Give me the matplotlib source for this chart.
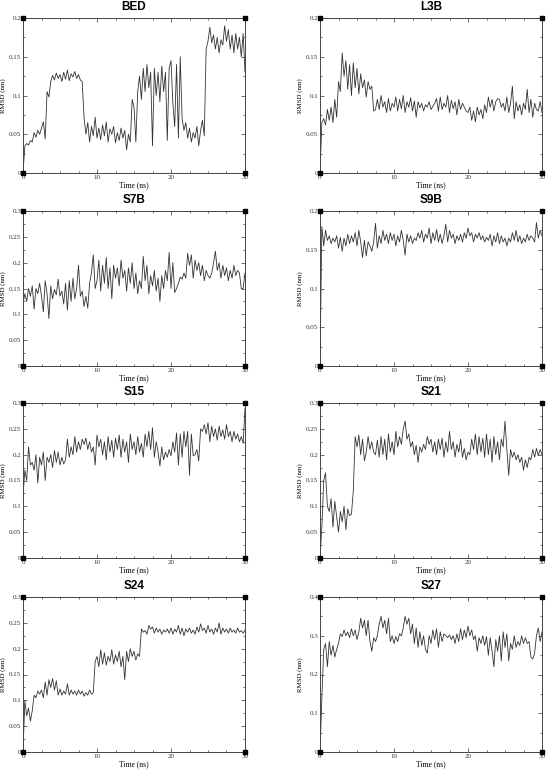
import numpy as np
import matplotlib
matplotlib.use("Agg")
import matplotlib.pyplot as plt
from matplotlib.ticker import MultipleLocator, FormatStrFormatter

bed = [0.000, 0.035, 0.038, 0.036, 0.042, 0.040, 0.052, 0.046, 0.055, 0.050,
       0.058, 0.066, 0.044, 0.105, 0.098, 0.118, 0.126, 0.120, 0.129, 0.122,
       0.127, 0.118, 0.130, 0.121, 0.133, 0.119, 0.128, 0.124, 0.131, 0.122,
       0.127, 0.120, 0.118, 0.072, 0.050, 0.065, 0.040, 0.060, 0.048, 0.072,
       0.045, 0.058, 0.043, 0.062, 0.048, 0.066, 0.040, 0.057, 0.050, 0.060,
       0.039, 0.052, 0.042, 0.058, 0.045, 0.055, 0.030, 0.050, 0.040, 0.095,
       0.085, 0.040, 0.105, 0.125, 0.095, 0.135, 0.105, 0.140, 0.110, 0.130,
       0.035, 0.135, 0.100, 0.130, 0.092, 0.138, 0.105, 0.130, 0.042, 0.135,
       0.145, 0.090, 0.060, 0.140, 0.045, 0.150, 0.070, 0.055, 0.065, 0.045,
       0.058, 0.040, 0.052, 0.045, 0.060, 0.035, 0.055, 0.068, 0.048, 0.160,
       0.170, 0.188, 0.168, 0.178, 0.160, 0.175, 0.155, 0.172, 0.165, 0.190,
       0.170, 0.185, 0.160, 0.178, 0.155, 0.180, 0.160, 0.175, 0.150, 0.180,
       0.130]

l3b = [0.000, 0.065, 0.070, 0.062, 0.082, 0.068, 0.085, 0.065, 0.095, 0.072,
       0.118, 0.105, 0.155, 0.125, 0.145, 0.108, 0.140, 0.100, 0.142, 0.110,
       0.135, 0.102, 0.128, 0.110, 0.120, 0.098, 0.118, 0.108, 0.112, 0.080,
       0.082, 0.095, 0.082, 0.100, 0.085, 0.092, 0.078, 0.096, 0.080, 0.090,
       0.085, 0.098, 0.080, 0.095, 0.083, 0.100, 0.078, 0.092, 0.085, 0.097,
       0.080, 0.093, 0.072, 0.092, 0.084, 0.090, 0.080, 0.088, 0.085, 0.092,
       0.082, 0.086, 0.090, 0.096, 0.080, 0.098, 0.082, 0.090, 0.085, 0.100,
       0.078, 0.094, 0.083, 0.092, 0.075, 0.095, 0.082, 0.090, 0.085, 0.080,
       0.078, 0.085, 0.068, 0.080, 0.066, 0.085, 0.075, 0.082, 0.070, 0.088,
       0.078, 0.098, 0.085, 0.095, 0.080, 0.092, 0.096, 0.095, 0.085, 0.090,
       0.080, 0.098, 0.078, 0.090, 0.112, 0.070, 0.092, 0.080, 0.088, 0.075,
       0.090, 0.082, 0.108, 0.078, 0.095, 0.072, 0.090, 0.082, 0.080, 0.092,
       0.078]

s7b = [0.120, 0.140, 0.125, 0.150, 0.135, 0.155, 0.110, 0.150, 0.140, 0.160,
       0.135, 0.105, 0.165, 0.140, 0.092, 0.155, 0.130, 0.148, 0.138, 0.168,
       0.135, 0.145, 0.120, 0.160, 0.108, 0.165, 0.125, 0.170, 0.130, 0.150,
       0.195, 0.135, 0.145, 0.115, 0.135, 0.112, 0.160, 0.180, 0.215, 0.150,
       0.165, 0.205, 0.145, 0.195, 0.160, 0.210, 0.150, 0.190, 0.130, 0.195,
       0.170, 0.190, 0.155, 0.205, 0.170, 0.185, 0.145, 0.190, 0.160, 0.200,
       0.150, 0.180, 0.140, 0.165, 0.150, 0.212, 0.165, 0.195, 0.140, 0.175,
       0.155, 0.185, 0.145, 0.170, 0.125, 0.175, 0.150, 0.185, 0.165, 0.220,
       0.150, 0.200, 0.142, 0.150, 0.160, 0.172, 0.168, 0.180, 0.170, 0.218,
       0.195, 0.215, 0.170, 0.205, 0.185, 0.200, 0.175, 0.195, 0.165, 0.185,
       0.175, 0.170, 0.180, 0.200, 0.222, 0.185, 0.200, 0.170, 0.195, 0.175,
       0.190, 0.165, 0.185, 0.170, 0.195, 0.175, 0.185, 0.180, 0.150, 0.150,
       0.180]

s9b = [0.000, 0.180, 0.155, 0.175, 0.162, 0.168, 0.158, 0.165, 0.160, 0.168,
       0.152, 0.166, 0.148, 0.165, 0.155, 0.170, 0.158, 0.168, 0.160, 0.172,
       0.155, 0.175, 0.160, 0.140, 0.162, 0.142, 0.160, 0.155, 0.148, 0.160,
       0.184, 0.152, 0.168, 0.158, 0.175, 0.162, 0.170, 0.158, 0.172, 0.162,
       0.170, 0.155, 0.168, 0.160, 0.175, 0.162, 0.143, 0.170, 0.160, 0.168,
       0.158, 0.165, 0.162, 0.172, 0.165, 0.175, 0.160, 0.170, 0.165, 0.178,
       0.158, 0.172, 0.162, 0.176, 0.160, 0.170, 0.158, 0.168, 0.183, 0.160,
       0.175, 0.165, 0.170, 0.158, 0.168, 0.162, 0.170, 0.160, 0.172, 0.165,
       0.178, 0.168, 0.172, 0.160, 0.170, 0.165, 0.172, 0.163, 0.168, 0.160,
       0.166, 0.162, 0.170, 0.155, 0.168, 0.160, 0.172, 0.158, 0.168, 0.160,
       0.165, 0.155, 0.165, 0.160, 0.172, 0.162, 0.175, 0.160, 0.168, 0.158,
       0.165, 0.160, 0.170, 0.162, 0.168, 0.165, 0.160, 0.185, 0.165, 0.175,
       0.168]

s15 = [0.120, 0.170, 0.150, 0.215, 0.180, 0.185, 0.170, 0.200, 0.145, 0.195,
       0.180, 0.205, 0.150, 0.195, 0.185, 0.200, 0.175, 0.208, 0.185, 0.205,
       0.180, 0.195, 0.182, 0.190, 0.230, 0.195, 0.215, 0.200, 0.235, 0.205,
       0.225, 0.210, 0.230, 0.220, 0.232, 0.210, 0.225, 0.205, 0.215, 0.180,
       0.238, 0.215, 0.230, 0.200, 0.225, 0.190, 0.235, 0.205, 0.228, 0.195,
       0.232, 0.210, 0.238, 0.195, 0.230, 0.205, 0.225, 0.185, 0.240, 0.210,
       0.225, 0.200, 0.235, 0.205, 0.222, 0.195, 0.240, 0.215, 0.245, 0.210,
       0.252, 0.195, 0.225, 0.205, 0.178, 0.215, 0.190, 0.205, 0.195, 0.210,
       0.198, 0.225, 0.205, 0.242, 0.180, 0.240, 0.195, 0.245, 0.215, 0.245,
       0.160, 0.240, 0.198, 0.200, 0.210, 0.188, 0.250, 0.245, 0.258, 0.240,
       0.262, 0.225, 0.255, 0.235, 0.250, 0.228, 0.255, 0.235, 0.248, 0.230,
       0.258, 0.235, 0.245, 0.225, 0.245, 0.230, 0.240, 0.225, 0.235, 0.222,
       0.290]

s21 = [0.000, 0.060, 0.150, 0.165, 0.100, 0.090, 0.115, 0.060, 0.110, 0.080,
       0.050, 0.090, 0.070, 0.100, 0.055, 0.095, 0.082, 0.085, 0.130, 0.235,
       0.215, 0.238, 0.200, 0.230, 0.188, 0.205, 0.235, 0.210, 0.225, 0.205,
       0.200, 0.228, 0.195, 0.235, 0.200, 0.230, 0.190, 0.240, 0.205, 0.225,
       0.200, 0.245, 0.215, 0.235, 0.220, 0.250, 0.265, 0.230, 0.240, 0.215,
       0.225, 0.200, 0.218, 0.185, 0.215, 0.205, 0.220, 0.210, 0.235, 0.220,
       0.230, 0.205, 0.225, 0.200, 0.230, 0.210, 0.232, 0.195, 0.225, 0.205,
       0.245, 0.210, 0.225, 0.195, 0.220, 0.205, 0.230, 0.195, 0.212, 0.190,
       0.205, 0.200, 0.230, 0.210, 0.240, 0.200, 0.235, 0.205, 0.232, 0.195,
       0.240, 0.200, 0.230, 0.185, 0.235, 0.200, 0.225, 0.190, 0.230, 0.215,
       0.265, 0.210, 0.160, 0.210, 0.195, 0.205, 0.190, 0.200, 0.185, 0.195,
       0.170, 0.190, 0.175, 0.195, 0.190, 0.210, 0.195, 0.212, 0.198, 0.210,
       0.200]

s24 = [0.000, 0.100, 0.070, 0.085, 0.060, 0.080, 0.110, 0.105, 0.118, 0.112,
       0.120, 0.105, 0.135, 0.110, 0.140, 0.125, 0.142, 0.120, 0.138, 0.110,
       0.122, 0.110, 0.118, 0.112, 0.132, 0.110, 0.120, 0.112, 0.118, 0.110,
       0.120, 0.112, 0.118, 0.108, 0.115, 0.110, 0.120, 0.112, 0.115, 0.175,
       0.185, 0.165, 0.198, 0.170, 0.192, 0.168, 0.185, 0.175, 0.198, 0.170,
       0.188, 0.175, 0.195, 0.165, 0.185, 0.140, 0.195, 0.175, 0.200, 0.185,
       0.195, 0.178, 0.190, 0.185, 0.238, 0.232, 0.235, 0.228, 0.245, 0.238,
       0.242, 0.230, 0.240, 0.232, 0.238, 0.228, 0.236, 0.232, 0.238, 0.230,
       0.240, 0.228, 0.238, 0.232, 0.245, 0.228, 0.240, 0.225, 0.238, 0.232,
       0.240, 0.230, 0.236, 0.228, 0.242, 0.232, 0.248, 0.235, 0.240, 0.230,
       0.245, 0.232, 0.238, 0.228, 0.240, 0.232, 0.250, 0.228, 0.240, 0.232,
       0.238, 0.230, 0.240, 0.232, 0.236, 0.230, 0.240, 0.232, 0.235, 0.230,
       0.236]

s27 = [0.000, 0.140, 0.265, 0.280, 0.220, 0.285, 0.250, 0.275, 0.245, 0.265,
       0.280, 0.305, 0.298, 0.315, 0.300, 0.310, 0.295, 0.318, 0.300, 0.315,
       0.290, 0.310, 0.345, 0.320, 0.340, 0.300, 0.340, 0.285, 0.260, 0.295,
       0.285, 0.300, 0.330, 0.350, 0.320, 0.340, 0.305, 0.345, 0.285, 0.300,
       0.280, 0.298, 0.285, 0.305, 0.300, 0.320, 0.350, 0.330, 0.345, 0.305,
       0.330, 0.280, 0.320, 0.270, 0.310, 0.275, 0.300, 0.265, 0.255, 0.300,
       0.280, 0.315, 0.290, 0.318, 0.270, 0.310, 0.285, 0.305, 0.300, 0.295,
       0.302, 0.290, 0.300, 0.280, 0.305, 0.285, 0.318, 0.290, 0.315, 0.295,
       0.325, 0.300, 0.315, 0.290, 0.300, 0.260, 0.295, 0.280, 0.300, 0.275,
       0.298, 0.250, 0.295, 0.260, 0.220, 0.290, 0.260, 0.300, 0.235, 0.310,
       0.270, 0.305, 0.235, 0.280, 0.265, 0.300, 0.270, 0.285, 0.275, 0.300,
       0.280, 0.295, 0.280, 0.285, 0.245, 0.240, 0.255, 0.300, 0.320, 0.285,
       0.310]

names = ["BED", "L3B", "S7B", "S9B", "S15", "S21", "S24", "S27"]
series = [bed, l3b, s7b, s9b, s15, s21, s24, s27]
ymax = [0.2, 0.2, 0.3, 0.2, 0.3, 0.3, 0.3, 0.4]
ystep = [0.05, 0.05, 0.05, 0.05, 0.05, 0.05, 0.05, 0.1]

W, H = 550, 772
fig = plt.figure(figsize=(W / 100, H / 100), dpi=100)

col_left = [23, 320]
row_top = [18, 211, 403, 597]
ax_w, ax_h = 222, 155

serif = ["Liberation Serif", "DejaVu Serif"]

for i, (name, vals) in enumerate(zip(names, series)):
    r, c = divmod(i, 2)
    x0 = col_left[c] / W
    y0 = 1 - (row_top[r] + ax_h) / H
    ax = fig.add_axes([x0, y0, ax_w / W, ax_h / H])

    t = np.linspace(0, 30, len(vals))
    ax.plot(t, vals, color="#333333", lw=0.6)

    ax.set_xlim(0, 30)
    ax.set_ylim(0, ymax[i])
    ax.xaxis.set_major_locator(MultipleLocator(10))
    ax.xaxis.set_minor_locator(MultipleLocator(2.5))
    ax.yaxis.set_major_locator(MultipleLocator(ystep[i]))
    ax.yaxis.set_minor_locator(MultipleLocator(ystep[i] / 2))
    ax.yaxis.set_major_formatter(FormatStrFormatter("%g"))
    ax.tick_params(which="both", direction="in", top=True, right=True,
                   width=0.5, colors="#333333", labelsize=5, pad=1.2)
    ax.tick_params(which="major", length=3)
    ax.tick_params(which="minor", length=1.5)
    for lab in ax.get_xticklabels() + ax.get_yticklabels():
        lab.set_family(serif)
    for sp in ax.spines.values():
        sp.set_linewidth(0.7)
        sp.set_color("#444444")

    # grace-style corner squares
    ax.plot([0, 0, 30, 30], [0, ymax[i], 0, ymax[i]], "s", ms=2.5,
            color="black", clip_on=False, zorder=5)

    ax.set_xlabel("Time (ns)", fontsize=5.5, family=serif, labelpad=1)
    ax.set_ylabel("RMSD (nm)", fontsize=5, family=serif)
    ax.yaxis.set_label_coords(-0.075, 0.5)
    ax.set_title(name, fontsize=8.5, fontweight="bold",
                 family=["Liberation Sans", "DejaVu Sans"], pad=6)

fig.savefig("out.png", dpi=100)
